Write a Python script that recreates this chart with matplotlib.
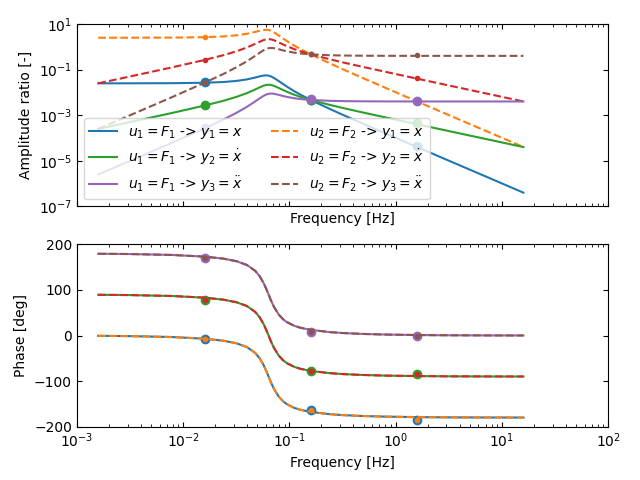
import numpy as np
import matplotlib
matplotlib.use('Agg')
import matplotlib.pyplot as plt
from matplotlib.ticker import NullLocator

# frequency axis [Hz]
freq_hz = [0.00159, 0.00318, 0.00796, 0.0159, 0.0239, 0.0318, 0.0398, 0.0477, 0.0525,
           0.0573, 0.0605, 0.0637, 0.0668, 0.0716, 0.0796, 0.0875, 0.0955, 0.111, 0.127,
           0.159, 0.239, 0.318, 0.477, 0.796, 1.59, 3.18, 7.96, 15.9]

# amplitude ratios, input u1 = F1
amp_u1_x = [0.02501, 0.02506, 0.02535, 0.02647, 0.02852, 0.03187, 0.03710, 0.04487, 0.05040,
            0.05488, 0.05584, 0.05435, 0.05063, 0.04298, 0.03108, 0.02289, 0.01751, 0.01129,
            0.007967, 0.004652, 0.001897, 0.001037, 4.516e-4, 1.609e-4, 4.006e-5, 1.000e-5,
            1.600e-6, 4.000e-7]
amp_u1_v = [2.501e-4, 5.011e-4, 1.268e-3, 2.647e-3, 4.278e-3, 6.374e-3, 9.276e-3, 0.01346,
            0.01663, 0.01976, 0.02122, 0.02174, 0.02127, 0.01934, 0.01554, 0.01259, 0.01051,
            0.007904, 0.006374, 0.004652, 0.002846, 0.002074, 0.001355, 8.046e-4, 4.006e-4,
            2.001e-4, 8.000e-5, 4.000e-5]
amp_u1_a = [2.501e-6, 1.002e-5, 6.338e-5, 2.647e-4, 6.418e-4, 1.275e-3, 2.319e-3, 4.038e-3,
            5.489e-3, 7.113e-3, 8.063e-3, 8.696e-3, 8.932e-3, 8.703e-3, 7.770e-3, 6.923e-3,
            6.303e-3, 5.533e-3, 5.099e-3, 4.652e-3, 4.269e-3, 4.148e-3, 4.065e-3, 4.023e-3,
            4.006e-3, 4.001e-3, 4.000e-3, 4.000e-3]

# amplitude ratios, input u2 = F2
amp_u2_x = [2.501, 2.506, 2.535, 2.647, 2.852, 3.187, 3.710, 4.487, 5.040, 5.488, 5.584, 5.435,
            5.063, 4.298, 3.108, 2.289, 1.751, 1.129, 0.7967, 0.4652, 0.1897, 0.1037, 0.04516,
            0.01609, 4.006e-3, 1.000e-3, 1.600e-4, 4.000e-5]
amp_u2_v = [0.02501, 0.05011, 0.1268, 0.2647, 0.4278, 0.6374, 0.9276, 1.346, 1.663, 1.976,
            2.122, 2.174, 2.127, 1.934, 1.554, 1.259, 1.051, 0.7904, 0.6374, 0.4652, 0.2846,
            0.2074, 0.1355, 0.08046, 0.04006, 0.02001, 8.000e-3, 4.000e-3]
amp_u2_a = [2.501e-4, 1.002e-3, 6.338e-3, 0.02647, 0.06418, 0.1275, 0.2319, 0.4038, 0.5489,
            0.7113, 0.8063, 0.8696, 0.8932, 0.8703, 0.7770, 0.6923, 0.6303, 0.5533, 0.5099,
            0.4652, 0.4269, 0.4148, 0.4065, 0.4023, 0.4006, 0.4001, 0.4000, 0.4000]

# phase [deg] (same for both inputs)
ph_x = [-0.66, -1.32, -3.34, -6.99, -11.35, -17.05, -25.26, -38.26, -49.92, -65.35, -77.42,
        -90.0, -101.98, -117.17, -134.37, -144.62, -151.10, -158.68, -162.95, -167.64,
        -172.48, -174.53, -176.43, -177.88, -178.94, -179.47, -179.79, -179.89]
ph_v = [89.34, 88.68, 86.66, 83.01, 78.65, 72.95, 64.74, 51.74, 40.08, 24.65, 12.58, 0.0,
        -11.98, -27.17, -44.37, -54.62, -61.10, -68.68, -72.95, -77.64, -82.48, -84.53,
        -86.43, -87.88, -88.94, -89.47, -89.79, -89.89]
ph_a = [179.34, 178.68, 176.66, 173.01, 168.65, 162.95, 154.74, 141.74, 130.08, 114.65,
        102.58, 90.0, 78.02, 62.83, 45.63, 35.38, 28.90, 21.32, 17.05, 12.36, 7.52, 5.47,
        3.57, 2.12, 1.06, 0.53, 0.21, 0.11]

# "measured" points
freq_mark = [0.0159, 0.159, 1.59]
mk_u1_x = [0.0275, 4.8e-3, 4.4e-5]
mk_u1_v = [2.8e-3, 4.8e-3, 4.4e-4]
mk_u1_a = [2.8e-4, 5.0e-3, 4.2e-3]
mk_u2_x = [2.66, 0.47, 4.2e-3]
mk_u2_v = [0.27, 0.47, 0.041]
mk_u2_a = [0.0275, 0.47, 0.42]
mk_ph_x = [-7.3, -163.0, -186.0]
mk_ph_v = [78.0, -77.0, -84.0]
mk_ph_a = [170.0, 8.0, -1.0]

labels_u1 = [r'$u_1 = F_1$ -> $y_1 = x$', r'$u_1 = F_1$ -> $y_2 = \dot{x}$',
             r'$u_1 = F_1$ -> $y_3 = \ddot{x}$']
labels_u2 = [r'$u_2 = F_2$ -> $y_1 = x$', r'$u_2 = F_2$ -> $y_2 = \dot{x}$',
             r'$u_2 = F_2$ -> $y_3 = \ddot{x}$']

amp_u1 = [amp_u1_x, amp_u1_v, amp_u1_a]
amp_u2 = [amp_u2_x, amp_u2_v, amp_u2_a]
mk_u1 = [mk_u1_x, mk_u1_v, mk_u1_a]
mk_u2 = [mk_u2_x, mk_u2_v, mk_u2_a]
phs = [ph_x, ph_v, ph_a]
mk_ph = [mk_ph_x, mk_ph_v, mk_ph_a]
col_u1 = ['C0', 'C2', 'C4']
col_u2 = ['C1', 'C3', 'C5']

fig, (ax1, ax2) = plt.subplots(2, 1, sharex=True, figsize=(6.4, 4.8))

h1, h2 = [], []
for j in range(3):
    l1, = ax1.loglog(freq_hz, amp_u1[j], '-', color=col_u1[j], label=labels_u1[j])
    ax1.loglog(freq_mark, mk_u1[j], 'o', color=col_u1[j], ms=6)
    l2, = ax1.loglog(freq_hz, amp_u2[j], '--', color=col_u2[j], label=labels_u2[j])
    ax1.loglog(freq_mark, mk_u2[j], 'o', color=col_u2[j], ms=3)
    h1.append(l1); h2.append(l2)

    ax2.semilogx(freq_hz, phs[j], '-', color=col_u1[j])
    ax2.semilogx(freq_mark, mk_ph[j], 'o', color=col_u1[j], ms=6)
    ax2.semilogx(freq_hz, phs[j], '--', color=col_u2[j])
    ax2.semilogx(freq_mark, mk_ph[j], 'o', color=col_u2[j], ms=3)

ax1.legend(handles=h1 + h2, ncol=2, loc='lower left')
ax1.set_ylim(1e-7, 1e1)
ax1.set_yticks([1e-7, 1e-5, 1e-3, 1e-1, 1e1])
ax1.yaxis.set_minor_locator(NullLocator())
ax1.set_ylabel('Amplitude ratio [-]')
ax1.set_xlabel('Frequency [Hz]')

ax2.set_xlim(1e-3, 1e2)
ax2.set_ylim(-200, 200)
ax2.set_ylabel('Phase [deg]')
ax2.set_xlabel('Frequency [Hz]')

for ax in (ax1, ax2):
    ax.tick_params(which='both', direction='in', top=True, right=True)

fig.subplots_adjust(left=0.12, right=0.9505, top=0.95, bottom=0.111, hspace=0.208)
plt.savefig('out.png', dpi=100)
